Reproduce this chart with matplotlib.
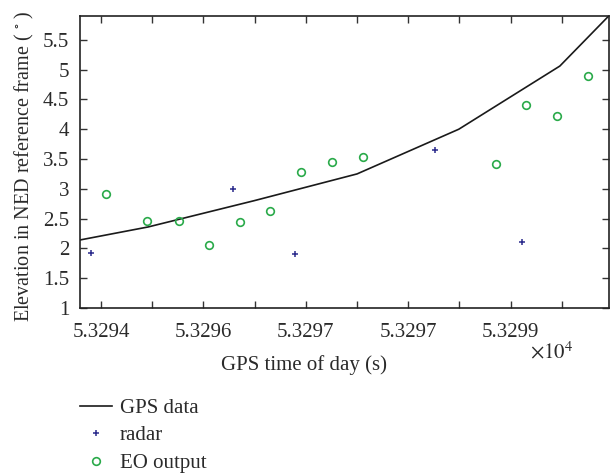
import matplotlib
matplotlib.use("Agg")
import matplotlib.pyplot as plt
import numpy as np

plt.rcParams['font.family'] = ['Liberation Serif', 'DejaVu Serif']
plt.rcParams['mathtext.fontset'] = 'stix'

# GPS time of day (s)
gps_t = [53293.685, 53294.69, 53296.24, 53297.75, 53299.24, 53300.72, 53301.44]
gps_el = [2.14, 2.36, 2.80, 3.25, 4.00, 5.06, 5.905]

radar_t = [53293.85, 53295.94, 53296.84, 53298.89, 53300.17]
radar_el = [1.93, 3.00, 1.90, 3.65, 2.11]

eo_t = [53294.08, 53294.68, 53295.14, 53295.58, 53296.03, 53296.48, 53296.93,
        53297.38, 53297.83, 53299.78, 53300.23, 53300.68, 53301.13]
eo_el = [2.92, 2.46, 2.46, 2.05, 2.45, 2.62, 3.29, 3.45, 3.53, 3.41, 4.41, 4.23, 4.89]

xtick_pos = [53294 + 0.75 * k for k in range(10)]
xtick_labels = ['5.3294', '', '5.3296', '', '5.3297', '', '5.3297', '', '5.3299', '']
ytick_pos = [1, 1.5, 2, 2.5, 3, 3.5, 4, 4.5, 5, 5.5]
ytick_labels = ['1', '1.5', '2', '2.5', '3', '3.5', '4', '4.5', '5', '5.5']

txt = '#2a2a2a'
fs = 15
fig = plt.figure(figsize=(6.11, 4.74), dpi=100)
ax = fig.add_axes([79.5 / 611, 166 / 474, (609 - 79.5) / 611, (308 - 15.7) / 474])

l1, = ax.plot(gps_t, gps_el, color='#1a1a1a', lw=1.2, label='GPS data')
l2, = ax.plot(radar_t, radar_el, ls='none', marker='+', ms=5, mew=1.1,
              color='#2a2a8c', label='radar')
l3, = ax.plot(eo_t, eo_el, ls='none', marker='o', ms=5.5, mfc='none', mew=1.2,
              color='#2aaa4a', label='EO output')

ax.set_xlim(gps_t[0], gps_t[-1])
ax.set_ylim(1, gps_el[-1])
ax.set_xticks(xtick_pos)
ax.set_xticklabels(xtick_labels)
ax.set_yticks(ytick_pos)
ax.set_yticklabels(ytick_labels)
ax.tick_params(direction='in', length=5, width=1, top=True, right=True,
               labelsize=fs, colors='#333333', labelcolor=txt)
ax.tick_params(axis='x', pad=11)
ax.tick_params(axis='y', pad=7.5)
for s in ax.spines.values():
    s.set_linewidth(1.2)
    s.set_color('#222222')

ax.set_xlabel('GPS time of day (s)', fontsize=fs, color=txt)
ax.xaxis.set_label_coords((304 - 79.5) / 529.5, (308 - 355) / 292.3)
ax.set_ylabel('Elevation in NED reference frame ( $^{\\circ}$ )', fontsize=14.5,
              color=txt)
ax.yaxis.set_label_coords((36 - 79.5) / 529.5, (308 - 166) / 292.3)

fig.text(530 / 611, 1 - 353 / 474, r'$\times10^{4}$', fontsize=fs, color=txt,
         va='center', ha='left')

fig.legend(handles=[l1, l2, l3], loc='upper left',
           bbox_to_anchor=(70 / 611, 1 - 388 / 474), frameon=False,
           fontsize=fs, labelcolor=txt, handlelength=1.5, handletextpad=0.4,
           labelspacing=0.38, borderpad=0)

fig.savefig('out.png', dpi=100)
